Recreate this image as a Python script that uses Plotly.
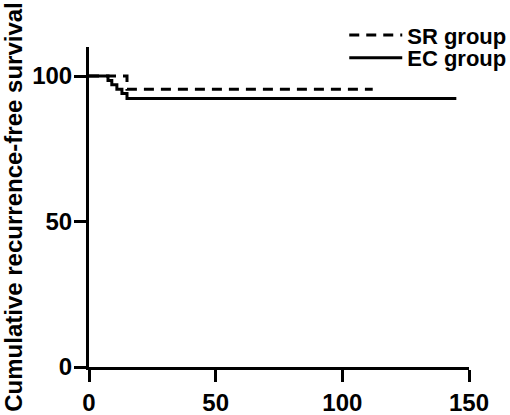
import plotly.graph_objects as go

# Kaplan-Meier style step data (time in months, survival in %)
sr_time = [0, 15, 112]
sr_surv = [100, 95.5, 95.5]

ec_time = [0, 7.5, 9, 11, 13, 15, 145]
ec_surv = [100, 98.5, 97, 95.5, 94, 92.3, 92.3]

x_ticks = [0, 50, 100, 150]
y_ticks = [0, 50, 100]

font_name = "Liberation Sans"

fig = go.Figure()
fig.add_trace(go.Scatter(x=sr_time, y=sr_surv, mode="lines", name="<b>SR group</b>",
                         legend="legend", showlegend=True,
                         line=dict(shape="hv", color="black", width=3, dash="10px,7px")))
fig.add_trace(go.Scatter(x=ec_time, y=ec_surv, mode="lines", name="<b>EC group</b>",
                         legend="legend2", showlegend=True,
                         line=dict(shape="hv", color="black", width=3)))

# one legend per row so the rows sit as close as in the original
leg = dict(xanchor="left", yanchor="top", xref="container", yref="container",
           bgcolor="rgba(0,0,0,0)", font=dict(size=22), itemwidth=53)

fig.update_layout(
    width=510, height=415,
    margin=dict(l=89, r=41, t=47, b=48, autoexpand=False),
    showlegend=True,
    plot_bgcolor="white", paper_bgcolor="white",
    font=dict(family=font_name, color="black", size=24),
    legend=dict(leg, x=0.675, y=0.966),
    legend2=dict(leg, x=0.675, y=0.911),
    xaxis=dict(range=[0, 150], tickvals=x_ticks, ticktext=[f"<b>{v}</b>" for v in x_ticks],
               showline=True, linecolor="black", linewidth=3, ticks="outside", ticklen=12,
               tickwidth=3, tickcolor="black", showgrid=False, zeroline=False,
               automargin=False),
    yaxis=dict(range=[0, 110], tickvals=y_ticks, ticktext=[f"<b>{v}</b>" for v in y_ticks],
               showline=True, linecolor="black", linewidth=3, ticks="outside", ticklen=12,
               tickwidth=3, tickcolor="black", showgrid=False, zeroline=False,
               automargin=False, ticklabelstandoff=-3,
               title=dict(text="<b>Cumulative recurrence-free survival</b>", standoff=10,
                          font=dict(size=24))),
)

# drop the browser's default 8px body margin so the figure sits at the page corner
fig.write_html("out.html", config={"displayModeBar": False},
               post_script="document.body.style.margin='0';")
